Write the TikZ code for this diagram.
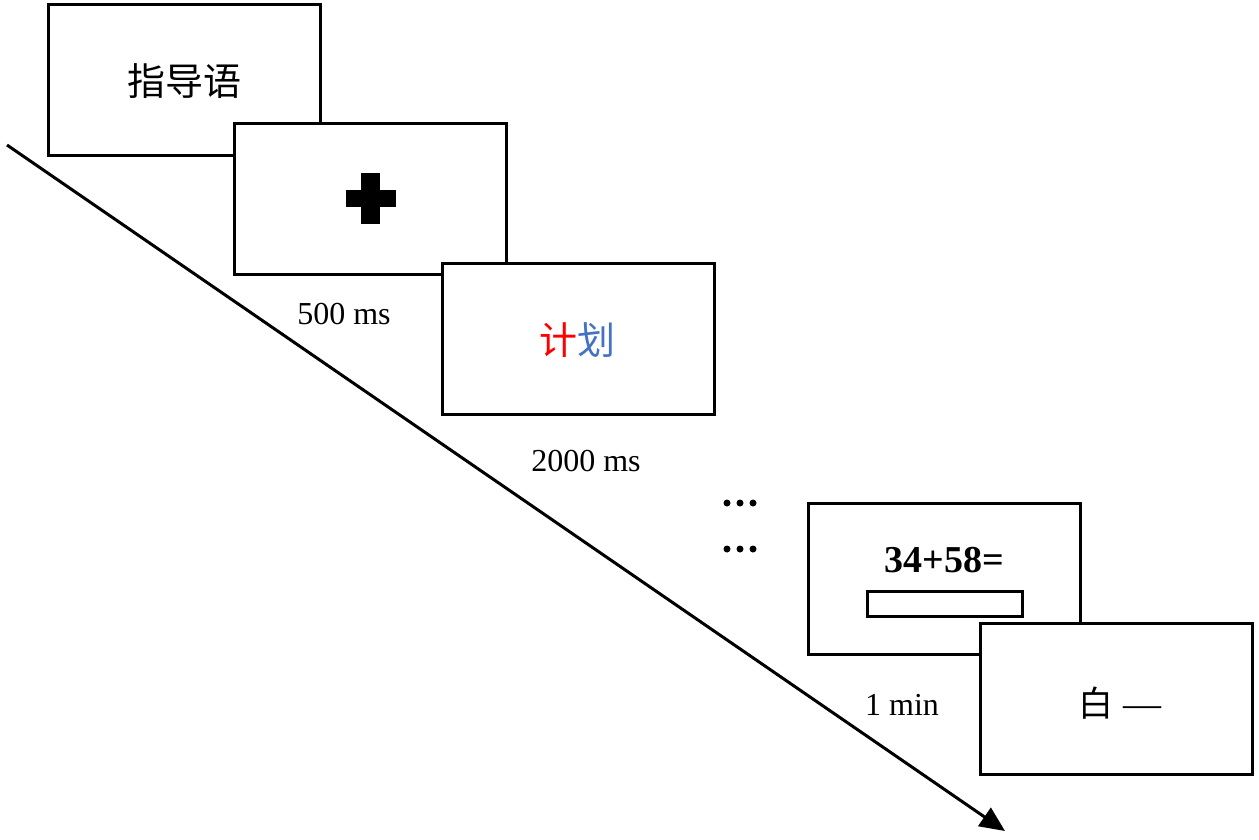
\documentclass[tikz,border=0pt]{standalone}
\usepackage{fontspec}
\setmainfont{Liberation Serif}
\newfontfamily\cjk{Noto Sans CJK SC}
\usetikzlibrary{arrows.meta}
\definecolor{jired}{RGB}{255,0,0}
\definecolor{huablue}{RGB}{68,114,196}
\tikzset{
  screen/.style={draw=black, line width=3pt, fill=white, minimum width=272pt, minimum height=151pt, inner sep=0pt},
  lbl/.style={font=\fontsize{32}{38}\selectfont, inner sep=0pt},
  blk/.style={fill=black, draw=none, inner sep=0pt},
  dotnode/.style={circle, fill=black, inner sep=0pt, minimum size=7pt},
}
\begin{document}
\begin{tikzpicture}[x=1pt,y=-1pt]
\useasboundingbox (0,0) rectangle (1259,839);
% time arrow
\coordinate (tstart) at (7,145);
\coordinate (tend) at (1005,831);
\draw[line width=3pt, -{Triangle[length=25pt,width=22pt]}] (tstart) -- (tend);
% screens
\node[screen] (s1) at (184.25,80) {};
\node[font=\cjk\fontsize{38}{44}\selectfont, inner sep=0pt] (t1) at (184,81) {指导语};
\node[screen] (s2) at (370.25,198.5) {};
\node[blk, minimum width=50pt, minimum height=17pt] (plush) at (370.5,198.5) {};
\node[blk, minimum width=19pt, minimum height=51pt] (plusv) at (370.5,198.5) {};
\node[screen] (s3) at (578.25,339) {};
\node[font=\cjk\fontsize{38}{44}\selectfont, inner sep=0pt] (t3) at (577,340) {\textcolor{jired}{计}\textcolor{huablue}{划}};
\node[screen] (s4) at (944,578.5) {};
\node[font=\bfseries\fontsize{38}{44}\selectfont, inner sep=0pt, anchor=base] (t4) at (944,572) {34+58=};
\node[draw=black, line width=3pt, fill=white, minimum width=155pt, minimum height=25pt, inner sep=0pt] (ans) at (944.5,603.5) {};
\node[screen] (s5) at (1116.5,699) {};
\node[inner sep=0pt, anchor=base] (t5) at (1120,716) {{\cjk\fontsize{35}{40}\selectfont 白}\fontsize{38}{40}\selectfont\ —};
% labels
\node[lbl] (l1) at (344,314) {500 ms};
\node[lbl] (l2) at (586,461) {2000 ms};
\node[lbl] (l3) at (902,705) {1 min};
% dots
\node[dotnode] (d1) at (727,503) {};
\node[dotnode] (d2) at (740,503) {};
\node[dotnode] (d3) at (753,503) {};
\node[dotnode] (d4) at (727,549) {};
\node[dotnode] (d5) at (740,549) {};
\node[dotnode] (d6) at (753,549) {};
\end{tikzpicture}
\end{document}
